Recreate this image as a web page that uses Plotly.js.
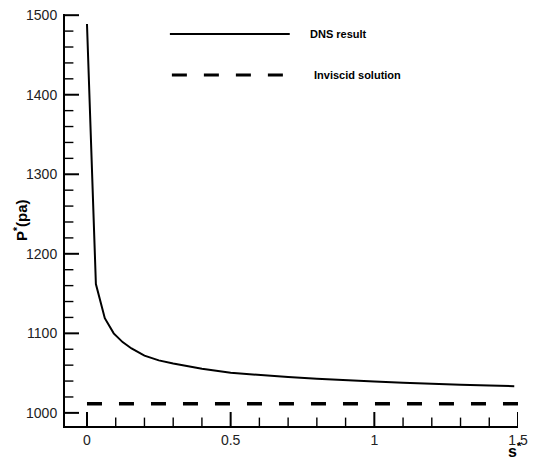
<!DOCTYPE html>
<html>
<head>
<meta charset="utf-8">
<script src="https://cdn.plot.ly/plotly-3.0.1.min.js"></script>
<style>html,body{margin:0;padding:0;background:#fff;}#chart{width:536px;height:462px;}</style>
</head>
<body>
<div id="chart"></div>
<script>
// Data
const dnsS = [0, 0.031, 0.062, 0.093, 0.124, 0.155, 0.2, 0.25, 0.3, 0.35, 0.4, 0.5, 0.6, 0.7, 0.8, 0.9, 1.0, 1.1, 1.2, 1.3, 1.4, 1.487];
const dnsP = [1489, 1162, 1119, 1100, 1089, 1081, 1072, 1066, 1062, 1058.5, 1055.5, 1050.5, 1047.5, 1045, 1043, 1041, 1039.5, 1038, 1036.5, 1035.5, 1034.5, 1033.5];
const invS = [0, 1.5];
const invP = [1011.5, 1011.5];
const seriesNames = ["DNS result", "Inviscid solution"];
const yTitle = "P<sup>*</sup>(pa)";
const xTitle = "s<sup>*</sup>";
const xMajor = [0, 0.5, 1, 1.5];
const xMinor = [0.1, 0.2, 0.3, 0.4, 0.6, 0.7, 0.8, 0.9, 1.1, 1.2, 1.3, 1.4];
const yMajor = [1000, 1100, 1200, 1300, 1400, 1500];
const yMinor = [1020, 1040, 1060, 1080, 1120, 1140, 1160, 1180, 1220, 1240, 1260, 1280, 1320, 1340, 1360, 1380, 1420, 1440, 1460, 1480];

const font = "Arial, 'Liberation Sans', sans-serif";
const W = 536, H = 462, M = {l: 65, r: 17.5, t: 14, b: 36};
const plotW = W - M.l - M.r, plotH = H - M.t - M.b;
const xRange = [-0.0765, 1.5], yRange = [983.5, 1501.5];

// inside tick marks: line markers centred on the axis line, clipped to the plot area
function xTickTrace(vals, len, w) {
  return {x: vals, y: vals.map(() => yRange[0]), mode: "markers", cliponaxis: true, hoverinfo: "skip", showlegend: false,
    marker: {symbol: "line-ns", size: 2 * len, color: "#000", line: {color: "#000", width: w}}};
}
function yTickTrace(vals, len, w) {
  return {x: vals.map(() => xRange[0]), y: vals, mode: "markers", cliponaxis: true, hoverinfo: "skip", showlegend: false,
    marker: {symbol: "line-ew", size: 2 * len, color: "#000", line: {color: "#000", width: w}}};
}

const traces = [
  {x: dnsS, y: dnsP, mode: "lines", name: seriesNames[0], line: {color: "#000", width: 2}, showlegend: false},
  {x: invS, y: invP, mode: "lines", name: seriesNames[1], line: {color: "#000", width: 3.5, dash: "15px,17px"}, showlegend: false},
  xTickTrace(xMajor, 10, 2),
  xTickTrace(xMinor, 6, 1.4),
  yTickTrace(yMajor, 10, 2),
  yTickTrace(yMinor, 6, 1.4)
];

const layout = {
  width: W, height: H,
  margin: M,
  paper_bgcolor: "#fff", plot_bgcolor: "#fff",
  font: {family: font, color: "#000"},
  showlegend: false,
  xaxis: {
    range: xRange, showgrid: false, zeroline: false,
    showline: true, linecolor: "#000", linewidth: 2,
    tickmode: "array", tickvals: xMajor,
    ticks: "", ticklabelstandoff: 0,
    tickfont: {size: 14, family: font, color: "#222"}
  },
  yaxis: {
    range: yRange, showgrid: false, zeroline: false,
    showline: true, linecolor: "#000", linewidth: 2,
    tickmode: "array", tickvals: yMajor,
    ticks: "", ticklabelstandoff: 3,
    tickfont: {size: 14, family: font, color: "#222"}
  },
  shapes: [
    {type: "line", xref: "paper", yref: "paper", x0: (170-65)/plotW, x1: (290-65)/plotW, y0: (426-34)/plotH, y1: (426-34)/plotH, line: {color: "#000", width: 2}},
    {type: "line", xref: "paper", yref: "paper", x0: (172-65)/plotW, x1: (292-65)/plotW, y0: (426-75)/plotH, y1: (426-75)/plotH, line: {color: "#000", width: 3, dash: "15px,17px"}}
  ],
  annotations: [
    {xref: "paper", yref: "paper", x: (308-65)/plotW, y: (426-34)/plotH, xanchor: "left", yanchor: "middle", text: "<b>" + seriesNames[0] + "</b>", showarrow: false, font: {size: 11, family: font, color: "#000"}},
    {xref: "paper", yref: "paper", x: (312-65)/plotW, y: (426-75)/plotH, xanchor: "left", yanchor: "middle", text: "<b>" + seriesNames[1] + "</b>", showarrow: false, font: {size: 11, family: font, color: "#000"}},
    {xref: "paper", yref: "paper", x: (515-65)/plotW, y: -(450-426)/plotH, xanchor: "center", yanchor: "middle", text: "<b>" + xTitle + "</b>", showarrow: false, font: {size: 16, family: font, color: "#000"}},
    {xref: "paper", yref: "paper", x: (20-65)/plotW, y: (426-220)/plotH, xanchor: "center", yanchor: "middle", textangle: -90, text: "<b>" + yTitle + "</b>", showarrow: false, font: {size: 15, family: font, color: "#000"}}
  ]
};

Plotly.newPlot("chart", traces, layout, {displayModeBar: false});
</script>
</body>
</html>
